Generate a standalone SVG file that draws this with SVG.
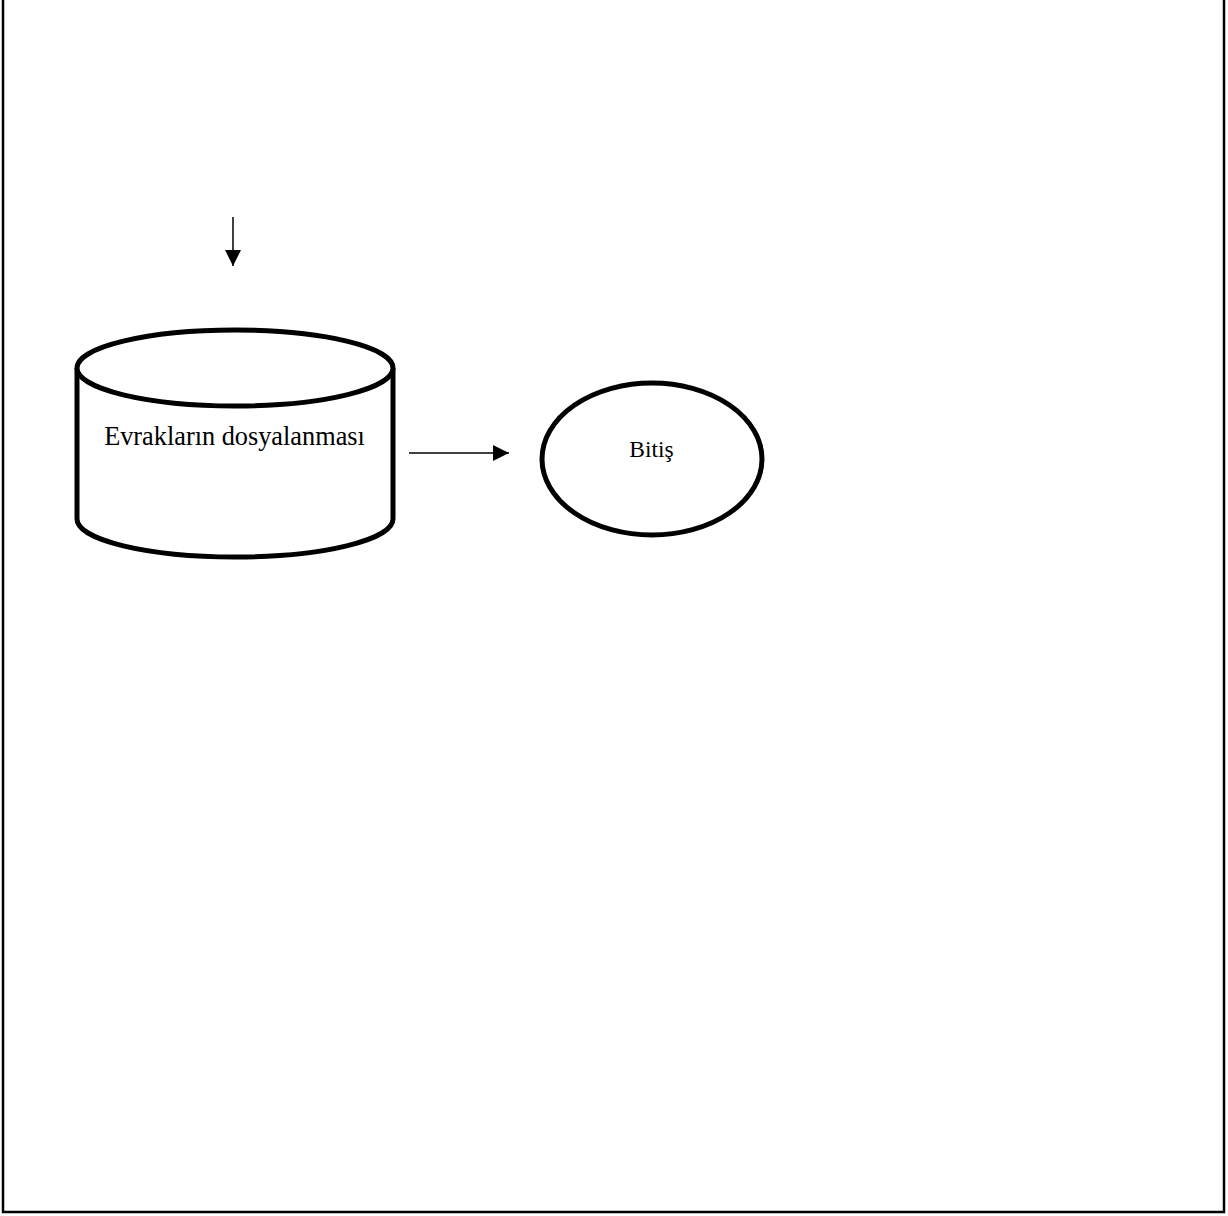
<svg xmlns="http://www.w3.org/2000/svg" width="1228" height="1216" viewBox="0 0 1228 1216">
<style>
.shape{fill:#fff;stroke:#000;stroke-width:5}
.lbl{font-family:"Liberation Serif","Times New Roman",serif;fill:#000;text-anchor:middle}
.conn{stroke:#000;stroke-width:1.5;fill:none}
</style>
<defs>
<marker id="ah2" viewBox="0 0 16 16" refX="16" refY="8" markerWidth="16" markerHeight="16" markerUnits="userSpaceOnUse" orient="auto">
<path d="M0,0 L16,8 L0,16 Z" fill="#000"/>
</marker>
</defs>
<rect x="3" y="-5" width="1221" height="1217" fill="#fff" stroke="#000" stroke-width="2.5"/>
<g id="connectors">
<line class="conn" x1="233" y1="217" x2="233" y2="266" marker-end="url(#ah2)"/>
<line class="conn" x1="409" y1="453" x2="509" y2="453" marker-end="url(#ah2)"/>
</g>
<g id="node-dosyalama">
<path class="shape" d="M77,368 L77,519 A158,38 0 0 0 393,519 L393,368"/>
<ellipse class="shape" cx="235" cy="368" rx="158" ry="38"/>
<text class="lbl" x="234.5" y="445" font-size="26.3">Evrakların dosyalanması</text>
</g>
<g id="node-bitis">
<ellipse class="shape" cx="652" cy="459" rx="110" ry="76"/>
<text class="lbl" x="651.5" y="457" font-size="23.5">Bitiş</text>
</g>
</svg>
